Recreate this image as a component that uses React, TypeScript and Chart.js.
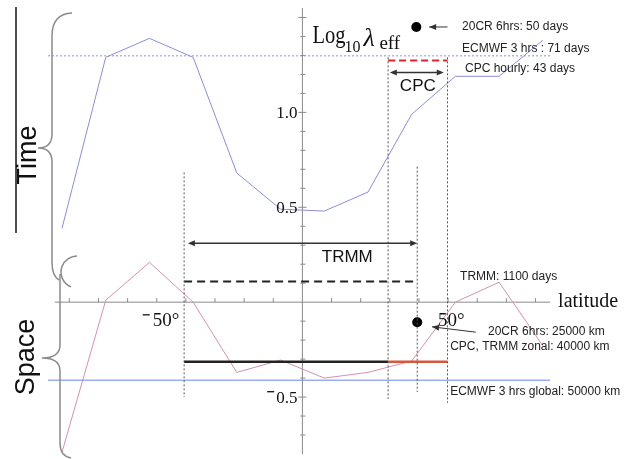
import React, { useEffect, useRef } from "react";
import { Chart, registerables } from "chart.js";

Chart.register(...registerables);

// Zonal-band centres (degrees latitude)
const latitudes = [-82.5, -67.5, -52.5, -37.5, -22.5, -7.5, 7.5, 22.5, 37.5, 52.5, 67.5, 82.5];
// log10 of the effective decorrelation scale in time
const timeLog = [0.39, 1.29, 1.39, 1.29, 0.68, 0.49, 0.48, 0.58, 0.99, 1.19, 1.19, 1.38];
// log10 of the effective decorrelation scale in space
const spaceLog = [-0.79, 0.01, 0.21, 0.0, -0.37, -0.305, -0.4, -0.37, -0.31, 0.0, 0.105, -0.23];

// Reference levels for the data sets
const ecmwfTimeLevel = 1.298;
const cpcTimeLevel = 1.273;
const trmmTimeLevel = 0.109;
const zonalSpaceLevel = -0.314;
const ecmwfSpaceLevel = -0.411;
const twentyCrPoints = [
  { x: 39.1, y: 1.45 },
  { x: 39.4, y: -0.106 },
];

// Latitude extents
const fullSpan = [-87.3, 85];
const cpcBand = [29.4, 49.8];
const trmmBand = [-40.6, 39.4];
const trmmMarker = 39.4;

// Axis ranges and tick labels
const xRange = [-88, 86];
const yRange = [-0.8, 1.55];
const axisSpanX = [-85, 85];
const xTickStep = 10;
const yTickStep = 0.1;
const xLabels = [-50, 50];
const yLabels = [1.0, 0.5, -0.5];

const seg = (x0: number, x1: number, v: number) => [
  { x: x0, y: v },
  { x: x1, y: v },
];
const vseg = (lat: number, v0: number, v1: number) => [
  { x: lat, y: v0 },
  { x: lat, y: v1 },
];

function arrowHead(ctx: CanvasRenderingContext2D, x: number, y: number, dx: number, dy: number) {
  const len = Math.hypot(dx, dy);
  const ux = dx / len;
  const uy = dy / len;
  const L = 7;
  const W = 3;
  ctx.beginPath();
  ctx.moveTo(x, y);
  ctx.lineTo(x - ux * L - uy * W, y - uy * L + ux * W);
  ctx.lineTo(x - ux * L + uy * W, y - uy * L - ux * W);
  ctx.closePath();
  ctx.fill();
}

const decorPlugin = {
  id: "decor",
  beforeDatasetsDraw(chart: any) {
    const { ctx } = chart;
    const xs = chart.scales.x;
    const ys = chart.scales.y;
    const px = (v: number) => xs.getPixelForValue(v);
    const py = (v: number) => ys.getPixelForValue(v);
    const x0 = px(0);
    const y0 = py(0);
    ctx.save();
    ctx.strokeStyle = "#8a8a8a";
    ctx.lineWidth = 1;
    // vertical axis
    ctx.beginPath();
    ctx.moveTo(x0, py(yRange[1]));
    ctx.lineTo(x0, py(yRange[0]));
    ctx.stroke();
    // latitude axis
    ctx.beginPath();
    ctx.moveTo(px(axisSpanX[0]), y0);
    ctx.lineTo(px(axisSpanX[1]), y0);
    ctx.stroke();
    // ticks on vertical axis
    for (let k = -7; k <= 15; k++) {
      if (k === 0) continue;
      const v = k * yTickStep;
      const major = k % 5 === 0;
      ctx.beginPath();
      ctx.moveTo(x0 - (major ? 4 : 2), py(v));
      ctx.lineTo(x0 + (major ? 4 : 3), py(v));
      ctx.stroke();
    }
    // ticks on latitude axis
    for (let d = -80; d <= 80; d += xTickStep) {
      if (d === 0) continue;
      ctx.beginPath();
      ctx.moveTo(px(d), y0);
      ctx.lineTo(px(d), y0 - 4);
      ctx.stroke();
    }
    ctx.restore();
  },
  afterDatasetsDraw(chart: any) {
    const { ctx } = chart;
    const xs = chart.scales.x;
    const ys = chart.scales.y;
    const px = (v: number) => xs.getPixelForValue(v);
    const py = (v: number) => ys.getPixelForValue(v);
    const x0 = px(0);
    const y0 = py(0);
    ctx.save();

    // tick labels on the vertical axis
    ctx.fillStyle = "#111";
    ctx.font = "17px 'Liberation Serif', serif";
    ctx.textAlign = "right";
    ctx.textBaseline = "middle";
    yLabels.forEach((v) => {
      const t = Math.abs(v).toFixed(1);
      ctx.fillText(t, x0 - 5, py(v) + 1);
      if (v < 0) {
        const w = ctx.measureText(t).width;
        ctx.fillRect(x0 - 5 - w - 9, py(v) - 6, 7, 1.3);
      }
    });
    // tick labels on the latitude axis
    ctx.font = "19px 'Liberation Serif', serif";
    ctx.textAlign = "left";
    ctx.textBaseline = "alphabetic";
    xLabels.forEach((d) => {
      const t = `${Math.abs(d)}°`;
      const lx = px(d) - 4 + (d > 0 ? -6 : 0);
      ctx.fillText(t, lx, y0 + 24);
      if (d < 0) ctx.fillRect(lx - 10, y0 + 12, 7, 1.3);
    });
    ctx.font = "20px 'Liberation Serif', serif";
    ctx.fillText("latitude", px(axisSpanX[1]) + 8, y0 + 5);

    // Log10 λeff title
    ctx.save();
    ctx.translate(x0 + 10, 43);
    ctx.scale(0.82, 1);
    ctx.font = "25px 'Liberation Serif', serif";
    ctx.fillText("Log", 0, 0);
    ctx.restore();
    ctx.font = "16px 'Liberation Serif', serif";
    ctx.fillText("10", x0 + 42, 52);
    ctx.font = "italic 26px 'Liberation Serif', serif";
    ctx.fillText("λ", x0 + 61, 46);
    ctx.font = "19px 'Liberation Serif', serif";
    ctx.fillText("eff", x0 + 77, 49);

    // arrows
    ctx.strokeStyle = "#333";
    ctx.fillStyle = "#333";
    ctx.lineWidth = 1.5;
    const dbl = (a: number, b: number, v: number) => {
      const xa = px(a);
      const xb = px(b);
      const yy = py(v);
      ctx.beginPath();
      ctx.moveTo(xa + 3, yy);
      ctx.lineTo(xb - 3, yy);
      ctx.stroke();
      arrowHead(ctx, xa, yy, -1, 0);
      arrowHead(ctx, xb, yy, 1, 0);
    };
    dbl(cpcBand[0] + 0.6, cpcBand[1] - 1.3, 1.21);
    dbl(trmmBand[0] + 1.3, trmmBand[1], 0.31);

    ctx.lineWidth = 1;
    const single = (xa: number, ya: number, xb: number, yb: number) => {
      ctx.beginPath();
      ctx.moveTo(xa, ya);
      ctx.lineTo(xb, yb);
      ctx.stroke();
      arrowHead(ctx, xb, yb, xb - xa, yb - ya);
    };
    single(px(49.8), py(twentyCrPoints[0].y), px(43.5), py(twentyCrPoints[0].y));
    single(px(59.5), py(-0.158), px(44.5), py(-0.13));

    // band labels
    ctx.fillStyle = "#111";
    ctx.font = "17px 'Liberation Sans', Arial, sans-serif";
    ctx.textAlign = "center";
    ctx.textBaseline = "middle";
    ctx.fillText("CPC", px((cpcBand[0] + cpcBand[1]) / 2), 86);
    ctx.fillText("TRMM", px(15.4), py(0.235));

    // annotations
    ctx.fillStyle = "#222";
    ctx.font = "12px 'Liberation Sans', Arial, sans-serif";
    ctx.textAlign = "left";
    const note = (t: string, lat: number, v: number) => ctx.fillText(t, px(lat), py(v));
    note("20CR 6hrs: 50 days", 54.8, 1.45);
    note("ECMWF 3 hrs : 71 days", 54.8, 1.335);
    note("CPC hourly: 43 days", 55.8, 1.23);
    note("TRMM: 1100 days", 54.1, 0.135);
    note("20CR 6hrs: 25000 km", 63.7, -0.158);
    note("CPC, TRMM zonal: 40000 km", 50.7, -0.237);
    note("ECMWF 3 hrs global: 50000 km", 50.7, -0.474);

    // Time / Space braces and labels
    ctx.strokeStyle = "#8c8c8c";
    ctx.lineWidth = 1.5;
    ctx.beginPath();
    ctx.moveTo(72, 13);
    ctx.quadraticCurveTo(52, 14, 52, 36);
    ctx.lineTo(52, 134);
    ctx.quadraticCurveTo(52, 148, 38, 148);
    ctx.quadraticCurveTo(52, 148, 52, 162);
    ctx.lineTo(52, 262);
    ctx.quadraticCurveTo(52, 276, 59, 280);
    ctx.stroke();
    ctx.beginPath();
    ctx.arc(77, 272, 16, 0.62 * Math.PI, 1.5 * Math.PI);
    ctx.stroke();
    ctx.beginPath();
    ctx.moveTo(60, 274);
    ctx.lineTo(60, 345);
    ctx.quadraticCurveTo(60, 358, 42, 358);
    ctx.quadraticCurveTo(60, 358, 60, 371);
    ctx.lineTo(60, 443);
    ctx.quadraticCurveTo(60, 456, 71, 458);
    ctx.stroke();

    ctx.strokeStyle = "#111";
    ctx.lineWidth = 1.5;
    ctx.beginPath();
    ctx.moveTo(16, 7);
    ctx.lineTo(16, 233);
    ctx.stroke();

    ctx.fillStyle = "#111";
    ctx.font = "27px 'Liberation Sans', Arial, sans-serif";
    ctx.textAlign = "center";
    ctx.textBaseline = "alphabetic";
    ctx.save();
    ctx.translate(36, 155);
    ctx.rotate(-Math.PI / 2);
    ctx.fillText("Time", 0, 0);
    ctx.restore();
    ctx.save();
    ctx.translate(34, 357);
    ctx.rotate(-Math.PI / 2);
    ctx.fillText("Space", 0, 0);
    ctx.restore();

    ctx.restore();
  },
};

export default function App() {
  const canvasRef = useRef<HTMLCanvasElement | null>(null);

  useEffect(() => {
    if (!canvasRef.current) return;
    const timeSeries = latitudes.map((lat, i) => ({ x: lat, y: timeLog[i] }));
    const spaceSeries = latitudes.map((lat, i) => ({ x: lat, y: spaceLog[i] }));
    const plain = { pointRadius: 0, tension: 0, fill: false };
    const vdot = { ...plain, borderColor: "#555", borderWidth: 1, borderDash: [2, 2] };

    const chart = new Chart(canvasRef.current, {
      type: "line",
      data: {
        datasets: [
          { ...vdot, data: vseg(trmmBand[0], 0.684, -0.5) },
          { ...vdot, data: vseg(cpcBand[0], 1.29, -0.51) },
          { ...vdot, data: vseg(cpcBand[1], 1.29, -0.53) },
          { ...vdot, data: vseg(trmmMarker, 0.714, -0.473) },
          {
            ...plain,
            data: seg(fullSpan[0], fullSpan[1], ecmwfTimeLevel),
            borderColor: "#8e8ee6",
            borderWidth: 1,
            borderDash: [2, 2],
          },
          {
            ...plain,
            data: seg(fullSpan[0], fullSpan[1], ecmwfSpaceLevel),
            borderColor: "#6b85ec",
            borderWidth: 1,
          },
          {
            ...plain,
            data: seg(cpcBand[0], cpcBand[1], cpcTimeLevel),
            borderColor: "#e8202c",
            borderWidth: 2,
            borderDash: [7, 4],
          },
          {
            ...plain,
            data: seg(trmmBand[0], trmmBand[1], trmmTimeLevel),
            borderColor: "#222",
            borderWidth: 2,
            borderDash: [8, 5],
          },
          {
            ...plain,
            data: seg(trmmBand[0], cpcBand[0], zonalSpaceLevel),
            borderColor: "#222",
            borderWidth: 2.5,
          },
          {
            ...plain,
            data: seg(cpcBand[0], cpcBand[1], zonalSpaceLevel),
            borderColor: "#d8573c",
            borderWidth: 2.5,
          },
          { ...plain, data: timeSeries, borderColor: "#8c8cdc", borderWidth: 1 },
          { ...plain, data: spaceSeries, borderColor: "#d68fb2", borderWidth: 1 },
          {
            data: twentyCrPoints,
            showLine: false,
            pointRadius: 5,
            pointBackgroundColor: "#000",
            pointBorderColor: "#000",
            pointBorderWidth: 0,
          },
        ],
      },
      options: {
        animation: false,
        responsive: false,
        events: [],
        layout: { padding: { left: 46, right: 82, top: 8, bottom: 4 } },
        scales: {
          x: { type: "linear", min: xRange[0], max: xRange[1], display: false },
          y: { type: "linear", min: yRange[0], max: yRange[1], display: false },
        },
        plugins: { legend: { display: false }, tooltip: { enabled: false } },
      },
      plugins: [decorPlugin],
    });
    return () => chart.destroy();
  }, []);

  return (
    <div style={{ position: "fixed", left: 0, top: 0, width: 635, height: 459, background: "#fff" }}>
      <canvas ref={canvasRef} width={635} height={459} style={{ display: "block" }} />
    </div>
  );
}
